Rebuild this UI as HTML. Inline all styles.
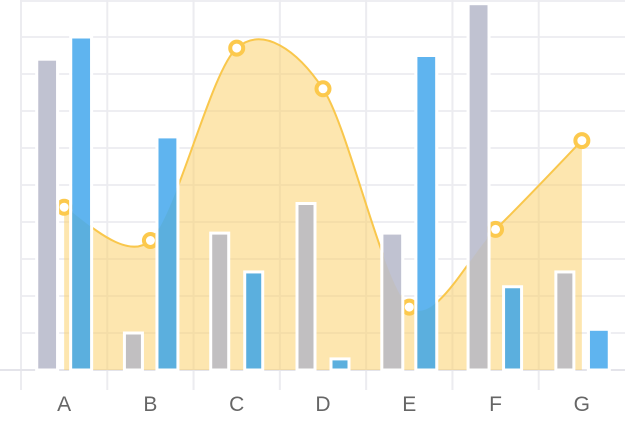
<!DOCTYPE html>
<html><head><meta charset="utf-8"><style>
html,body{margin:0;padding:0;background:#fff;}
svg{display:block;font-family:"Liberation Sans",sans-serif;}
</style></head><body>
<svg id="chart" width="640" height="426"></svg>
<script>
const categories=['A','B','C','D','E','F','G'];
const graySeries=[84,10,37,45,37,99,26.5];
const blueSeries=[90,63,26.5,3,85,22.5,11];
const lineSeries=[44,35,87,76,17,38,62];
const grayFront=[false,true,true,true,false,false,true];
const blueFront=[false,false,true,true,false,true,false];

const NS='http://www.w3.org/2000/svg';
const svg=document.getElementById('chart');
const X0=21,X1=625,Y0=370,YT=0,VMAX=100;
const band=(X1-X0)/categories.length;
const xc=i=>X0+band*(i+0.5);
const y=v=>Y0-(v/VMAX)*(Y0-YT);
function el(tag,attrs,parent){const e=document.createElementNS(NS,tag);for(const k in attrs)e.setAttribute(k,attrs[k]);(parent||svg).appendChild(e);return e;}

// grid
const grid=el('g',{});


for(let k=1;k<=10;k++){const yy=y(k*10);el('line',{x1:X0,x2:X1,y1:yy,y2:yy,stroke:'#eeeef2','stroke-width':2},grid);}
el('line',{x1:X0,x2:X1,y1:1,y2:1,stroke:'#eeeef2','stroke-width':2},grid);
for(let i=0;i<=categories.length;i++){const xx=X0+band*i;if(xx>X1-2)continue;el('line',{x1:xx,x2:xx,y1:0,y2:390,stroke:'#ececf0','stroke-width':2},grid);}
const axis=el('line',{x1:0,x2:X1,y1:Y0,y2:Y0,stroke:'#e4e4ea','stroke-width':2});



const BW=18,OFF=17;
function barRect(i,which){const v=which==='gray'?graySeries[i]:blueSeries[i];const cx=xc(i)+(which==='gray'?-OFF:OFF);return {x:cx-BW/2,y:y(v),width:BW,height:Y0-y(v)};}
function drawBar(i,which,front,layer,dark){
  const r=barRect(i,which);
  const fill=which==='gray'?((front||dark)?'#c1bfc1':'#c0c2d1'):((front||dark)?'#5bafde':'#5fb4ef');
  const a=Object.assign({fill:fill},r);
  if(front){a.stroke='#fff';a['stroke-width']=3;}
  const b=el('rect',a,layer);
  
  
}

// smooth line
const pts=lineSeries.map((v,i)=>[xc(i),y(v)]);
function path(p){let d='M'+p[0][0]+','+p[0][1];const t=0.15;for(let i=0;i<p.length-1;i++){const p0=p[i-1]||p[i],p1=p[i],p2=p[i+1],p3=p[i+2]||p2;const c1=[p1[0]+(p2[0]-p0[0])*t,p1[1]+(p2[1]-p0[1])*t];const c2=[p2[0]-(p3[0]-p1[0])*t,p2[1]-(p3[1]-p1[1])*t];d+=' C'+c1[0]+','+c1[1]+' '+c2[0]+','+c2[1]+' '+p2[0]+','+p2[1];}return d;}
const lp=path(pts);
const areaD=lp+' L'+pts[pts.length-1][0]+','+Y0+' L'+pts[0][0]+','+Y0+' Z';
const defs=el('defs',{});
const cp=el('clipPath',{id:'areaClip'},defs);
el('path',{d:areaD},cp);
const area=el('path',{d:areaD,fill:'rgba(252,206,95,0.5)'});


const line=el('path',{d:lp,fill:'none',stroke:'#f9c74c','stroke-width':2});


pts.forEach((p,i)=>{const m=el('circle',{cx:p[0],cy:p[1],r:6.5,fill:'#fff',stroke:'#fcc94d','stroke-width':4});

});

const back=el('g',{});


categories.forEach((c,i)=>{if(!grayFront[i])drawBar(i,'gray',false,back,false);if(!blueFront[i])drawBar(i,'blue',false,back,false);});
const shade=el('g',{'clip-path':'url(#areaClip)'});


categories.forEach((c,i)=>{if(!grayFront[i])drawBar(i,'gray',false,shade,true);if(!blueFront[i])drawBar(i,'blue',false,shade,true);});

// white outlines of back bars
const outl=el('g',{});


categories.forEach((c,i)=>{['gray','blue'].forEach(w=>{const f=w==='gray'?grayFront[i]:blueFront[i];if(f)return;const r=barRect(i,w);el('rect',Object.assign({fill:'none',stroke:'#fff','stroke-width':3},{x:r.x-1.5,y:r.y,width:r.width+3,height:r.height}),outl);});});

const front=el('g',{});


categories.forEach((c,i)=>{if(grayFront[i])drawBar(i,'gray',true,front,false);if(blueFront[i])drawBar(i,'blue',true,front,false);});

categories.forEach((c,i)=>{const t=el('text',{x:xc(i),y:411,'text-anchor':'middle','font-size':21,fill:'#666'});t.textContent=c;

});
</script>
</body></html>
